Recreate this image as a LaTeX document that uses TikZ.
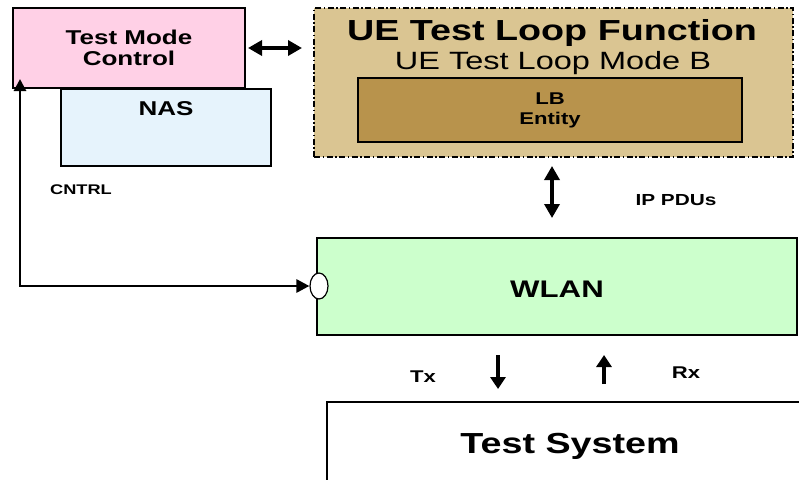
\documentclass[tikz,border=0pt]{standalone}
\usepackage{fontspec}
\setmainfont{Liberation Sans}[FakeStretch=1.3]
\usetikzlibrary{arrows.meta,shapes.geometric,positioning}
\newcommand\fsz[2]{\fontsize{#1}{#2}\selectfont}
\definecolor{tmcpink}{HTML}{FFD0E6}
\definecolor{nasblue}{HTML}{E6F3FC}
\definecolor{uetan}{HTML}{DAC592}
\definecolor{lbbrown}{HTML}{B8934C}
\definecolor{wlangreen}{HTML}{CCFFCC}

\begin{document}
\begin{tikzpicture}[x=1pt,y=-1pt,
    blk/.style={draw,line width=1.5pt,inner sep=0pt,outer sep=0pt,anchor=north west,align=center},
    lbl/.style={inner sep=0pt,font={\fsz{14}{16}\bfseries}},
    arr/.style={line width=3.2pt,-{Triangle[length=12pt,width=15pt]}},
    darr/.style={line width=3.4pt,{Triangle[length=14pt,width=15pt]}-{Triangle[length=14pt,width=15pt]}}]
    \useasboundingbox (0,0) rectangle (799,479);
    \clip (0,0) rectangle (799,479);
    % upper left: control and NAS
    \node(nas)[blk,fill=nasblue,minimum width=210pt,minimum height=77pt] at (61,89) {};
    \node(nasl)[lbl,font={\fsz{20}{22}\bfseries},below=12pt of nas.north] {NAS};
    \node(tmc)[blk,fill=tmcpink,minimum width=232pt,minimum height=80pt,font={\fsz{20}{21}\bfseries}] at (13,8) {Test Mode\\Control};
    % loop function
    \node(uetlf)[blk,fill=uetan,dash pattern=on 6pt off 2.5pt on 1.5pt off 2.5pt,minimum width=479pt,minimum height=149pt] at (314,8) {};
    \node(uetitle)[inner sep=0pt,font={\fsz{29}{31}\bfseries}] at (552,33) {UE Test Loop Function};
    \node(uemode)[inner sep=0pt,font={\fsz{25}{27}}] at (553,63) {UE Test Loop Mode B};
    \node(lb)[blk,fill=lbbrown,minimum width=384pt,minimum height=64pt,font={\fsz{17}{20}\bfseries}] at (358,78) {LB\\Entity};
    % lower part
    \node(wlan)[blk,fill=wlangreen,minimum width=480pt,minimum height=97pt,text height=22pt,text depth=0pt,font={\fsz{24}{26}\bfseries}] at (317,238) {WLAN};
    \node(ts)[blk,fill=white,minimum width=486pt,minimum height=88pt,font={\fsz{29}{31}\bfseries}] at (327,402) {Test System};
    \node(sap)[ellipse,draw,line width=1.2pt,fill=white,minimum width=18pt,minimum height=26pt,inner sep=0pt] at (319,286) {};
    % labels
    \node(cntrl)[lbl] at (81,190) {CNTRL};
    \node(ippdu)[lbl,font={\fsz{16}{18}\bfseries}] at (676,200) {IP PDUs};
    \node(tx)[lbl,font={\fsz{17}{19}\bfseries}] at (423,377) {Tx};
    \node(rx)[lbl,font={\fsz{17}{19}\bfseries}] at (686,373) {Rx};
    % connectors
    \coordinate(cntip) at (20,79);
    \coordinate(tmcr) at (248,48);
    \coordinate(uel) at (302,48);
    \coordinate(lbdn) at (552,166);
    \coordinate(wlup) at (552,218);
    \coordinate(txa) at (498,355);
    \coordinate(txb) at (498,389);
    \coordinate(rxa) at (604,384);
    \coordinate(rxb) at (604,355);
    \draw[darr] (tmcr) -- (uel);
    \draw[darr] (lbdn) -- (wlup);
    \draw[arr,line width=2.8pt,{Triangle[length=12pt,width=12pt]}-{Triangle[length=13pt,width=13pt]}] (cntip) |- (sap.west);
    \draw[arr] (txa) -- (txb);
    \draw[arr] (rxa) -- (rxb);
\end{tikzpicture}
\end{document}
